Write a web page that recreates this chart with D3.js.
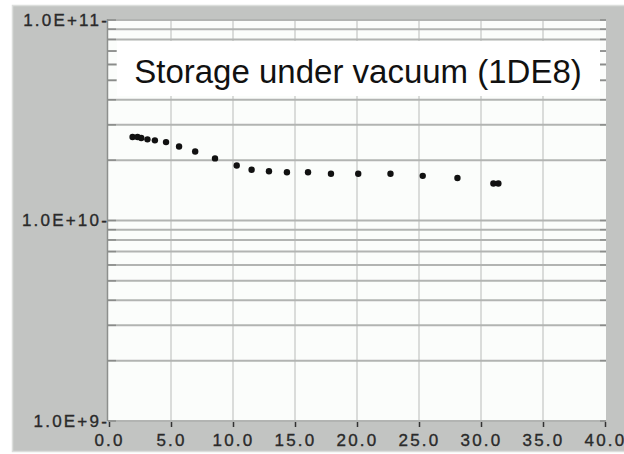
<!DOCTYPE html>
<html>
<head>
<meta charset="utf-8">
<script src="https://cdn.jsdelivr.net/npm/d3@7"></script>
<style>
  body { margin: 0; background: #ffffff; }
  svg { display: block; }
</style>
</head>
<body>
<div class="board"></div>
<script>
// DATA
var timeValues = [1.9, 2.3, 2.6, 3.1, 3.7, 4.6, 5.65, 6.95, 8.55, 10.3, 11.5, 12.9, 14.35, 16.05, 17.9, 20.1, 22.7, 25.3, 28.1, 31.0, 31.4];
var countValues = [2.61e10, 2.61e10, 2.58e10, 2.54e10, 2.51e10, 2.46e10, 2.34e10, 2.21e10, 2.04e10, 1.88e10, 1.79e10, 1.76e10, 1.74e10, 1.74e10, 1.71e10, 1.71e10, 1.71e10, 1.67e10, 1.63e10, 1.53e10, 1.53e10];
var xTicks = [0, 5, 10, 15, 20, 25, 30, 35, 40];
var yTicks = [1e9, 1e10, 1e11];
var titleText = 'Storage under vacuum (1DE8)';

// BOARD
var boardW = 624, boardH = 454;
var plotL = 108, plotR = 606, plotT = 19, plotB = 421;
var labelFont = 'Liberation Sans, Arial, sans-serif';

var svg = d3.select('.board').append('svg')
  .attr('width', boardW)
  .attr('height', boardH);

// outer gray panel
svg.append('rect')
  .attr('x', 12.5).attr('y', 5.5)
  .attr('width', 620).attr('height', 446)
  .attr('fill', '#c2c4c2')
  .attr('stroke', '#dcdedc')
  .attr('stroke-width', 1.5);

var x = d3.scaleLinear().domain([0, 40]).range([plotL + 1, plotR - 1]);
var y = d3.scaleLog().domain([1e9, 1e11]).range([plotB, plotT + 1]);

// plot background
svg.append('rect')
  .attr('x', plotL).attr('y', plotT)
  .attr('width', plotR - plotL).attr('height', plotB - plotT)
  .attr('fill', '#fbfdfb');

// grid lines
var minor = [];
[1e9, 1e10].forEach(function (d) {
  for (var m = 1; m < 10; m++) minor.push(d * m);
});
minor.push(1e11);

svg.append('g').selectAll('line')
  .data(xTicks.slice(1, -1))
  .enter().append('line')
  .attr('x1', function (d) { return x(d); })
  .attr('x2', function (d) { return x(d); })
  .attr('y1', plotT).attr('y2', plotB)
  .attr('stroke', '#cfd1cf')
  .attr('stroke-width', 1.5);

svg.append('g').selectAll('line')
  .data(minor)
  .enter().append('line')
  .attr('x1', plotL).attr('x2', plotR)
  .attr('y1', function (d) { return y(d); })
  .attr('y2', function (d) { return y(d); })
  .attr('stroke', '#b2b4b2')
  .attr('stroke-width', 2);

// title box covers the grid
svg.append('rect')
  .attr('x', 117).attr('y', 41)
  .attr('width', 483).attr('height', 55)
  .attr('fill', '#ffffff');

// minor ticks on both edges (visible where the box hides the grid)
svg.append('g').selectAll('line')
  .data(minor)
  .enter().append('line')
  .attr('x1', plotL).attr('x2', plotL + 8)
  .attr('y1', function (d) { return y(d); })
  .attr('y2', function (d) { return y(d); })
  .attr('stroke', '#8a8c8a')
  .attr('stroke-width', 1.5);

svg.append('g').selectAll('line')
  .data(minor)
  .enter().append('line')
  .attr('x1', plotR - 6).attr('x2', plotR)
  .attr('y1', function (d) { return y(d); })
  .attr('y2', function (d) { return y(d); })
  .attr('stroke', '#8a8c8a')
  .attr('stroke-width', 1.5);

svg.append('text')
  .attr('x', 358).attr('y', 83)
  .attr('text-anchor', 'middle')
  .attr('font-family', labelFont)
  .attr('font-size', 33)
  .attr('fill', '#111')
  .text(titleText);

// left border of the plot
svg.append('line')
  .attr('x1', plotL - 0.5).attr('x2', plotL - 0.5)
  .attr('y1', plotT).attr('y2', plotB)
  .attr('stroke', '#8d8f8d')
  .attr('stroke-width', 1.5);

// AXES
var xAxis = d3.axisBottom(x)
  .tickValues(xTicks)
  .tickSize(5)
  .tickFormat(d3.format('.1f'));

var gx = svg.append('g')
  .attr('transform', 'translate(0,' + (plotB + 1) + ')')
  .call(xAxis);
gx.select('.domain').remove();
gx.selectAll('line').attr('stroke', '#333').attr('stroke-width', 1.5);
gx.selectAll('text')
  .attr('font-family', labelFont)
  .attr('font-size', 17)
  .attr('letter-spacing', 2.2)
  .attr('fill', '#2a2a2a')
  .attr('stroke', '#2a2a2a')
  .attr('stroke-width', 0.35)
  .attr('y', 0)
  .attr('dy', 24);

var yAxis = d3.axisLeft(y)
  .tickValues(yTicks)
  .tickSize(0)
  .tickPadding(0)
  .tickFormat(function (d) { return '1.0E+' + Math.round(Math.log10(d)) + '-'; });

var gy = svg.append('g')
  .attr('transform', 'translate(' + (plotL + 1) + ',0)')
  .call(yAxis);
gy.select('.domain').remove();
gy.selectAll('text')
  .attr('font-family', labelFont)
  .attr('font-size', 17)
  .attr('letter-spacing', 2.2)
  .attr('fill', '#2a2a2a')
  .attr('stroke', '#2a2a2a')
  .attr('stroke-width', 0.35);

// POINTS
svg.append('g').selectAll('circle')
  .data(timeValues)
  .enter().append('circle')
  .attr('cx', function (d) { return x(d); })
  .attr('cy', function (d, i) { return y(countValues[i]); })
  .attr('r', 3.2)
  .attr('fill', '#111');
</script>
</body>
</html>
